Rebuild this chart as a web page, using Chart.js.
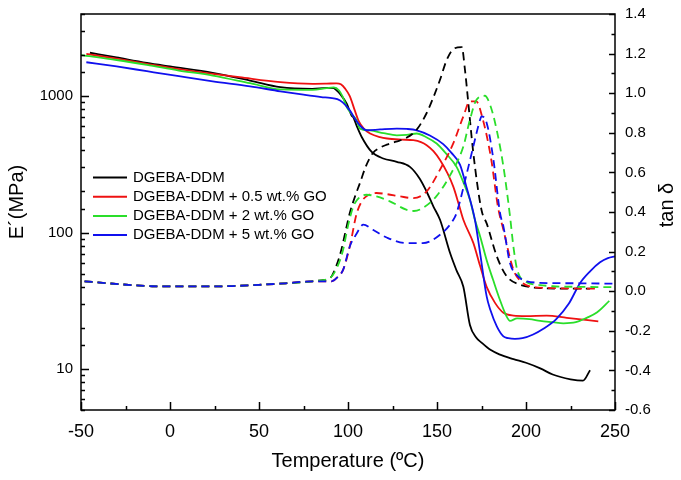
<!DOCTYPE html>
<html>
<head>
<meta charset="utf-8">
<script src="https://cdn.jsdelivr.net/npm/chart.js@4/dist/chart.umd.min.js"></script>
<style>
  html, body { margin: 0; padding: 0; background: #fff; }
</style>
</head>
<body>
<canvas id="myChart" width="681" height="480"></canvas>
<script>
// Series names and colours
const seriesNames = ['DGEBA-DDM', 'DGEBA-DDM + 0.5 wt.% GO', 'DGEBA-DDM + 2 wt.% GO', 'DGEBA-DDM + 5 wt.% GO'];
const seriesColors = ['#000000', '#ee1111', '#2ade2a', '#1010ee'];

// Storage modulus E' (MPa), left log axis
const tempE0 = [-45, -30, -13, 0, 24, 45, 62, 80, 88, 92, 93, 96, 99.3, 102, 103, 105, 107.7, 113.3, 119.8, 127.4, 134.8, 140.4, 144.2, 148, 151.7, 157.3, 160.9, 164.8, 168.5, 172, 175, 180, 185, 193, 200, 208, 215, 225, 232, 236];
const modE0 = [2080, 1920, 1753, 1650, 1480, 1300, 1163, 1132, 1150, 1145, 1120, 1020, 880, 720, 700, 600, 502, 390, 349, 330, 303, 247, 199, 155, 124, 71, 53, 40, 21, 17, 15.6, 13.8, 12.8, 11.8, 11.1, 10.1, 9.1, 8.4, 8.2, 9.8];

const tempE1 = [-47, -30, -13, 5, 24, 39, 62, 80, 88, 93.5, 96, 98.5, 101, 103.8, 105.8, 109, 112.4, 118, 122, 130, 136.7, 141, 144.2, 148, 151.7, 156, 159.2, 162, 164.8, 170.4, 174.2, 177.9, 182.6, 187.3, 193, 200, 211.6, 222.9, 240.6];
const modE1 = [2040, 1880, 1725, 1580, 1457, 1376, 1265, 1231, 1235, 1240, 1220, 1130, 1000, 786, 665, 575, 532, 500, 489, 480, 475, 460, 437, 395, 340, 270, 216, 165, 124, 84, 57, 40, 30.5, 25.8, 24.6, 24.4, 24.6, 23.7, 22.3];

const tempE2 = [-50, -30, -13, 5, 24, 45, 62, 80, 88, 92, 95, 97, 99.3, 102, 104.8, 106.7, 112.4, 120, 127.4, 133, 138.6, 144, 149.8, 155, 161, 165, 168.5, 171.3, 174.2, 178, 181.5, 185, 189, 191, 195, 202, 208, 215, 221, 228, 234.1, 240, 246.8];
const modE2 = [2000, 1840, 1695, 1540, 1416, 1243, 1119, 1110, 1145, 1160, 1100, 990, 831, 740, 665, 578, 560, 535, 516, 520, 532, 500, 449, 380, 303, 230, 174, 124, 94, 62, 45, 33, 24.4, 22.5, 23.5, 23.2, 22.5, 22, 21.6, 22, 23.7, 26, 31.5];

const tempE3 = [-47, -30, -13, 5, 24, 45, 62, 75, 85, 90, 94, 97, 101, 104, 107.5, 110.5, 118, 127.4, 133, 138.6, 146, 153.5, 158, 162.9, 166.8, 171.3, 174.2, 177.9, 180, 183.6, 187.3, 190, 193.8, 198, 204, 210, 217, 224, 230.4, 236, 241.6, 246, 250];
const modE3 = [1771, 1650, 1523, 1400, 1284, 1180, 1085, 1025, 985, 970, 950, 900, 786, 680, 594, 562, 570, 578, 575, 562, 515, 445, 385, 315, 210, 124, 71, 34, 27, 20.5, 17.3, 16.8, 16.6, 16.8, 17.9, 19.8, 23.2, 30, 42.7, 52, 60.5, 65, 67];

// tan delta, right axis (shared glassy baseline, then each series)
const tempTanBase = [-48, -35, -20, -10, 0, 20, 35, 50, 65, 80];
const tanBase = [0.05, 0.04, 0.03, 0.025, 0.024, 0.024, 0.026, 0.032, 0.04, 0.05];

const tempTan0 = [85, 90, 93.5, 96, 99.3, 101, 104, 106.7, 110, 114, 118, 121.8, 127, 132.7, 138.6, 144.2, 148, 151.7, 155.5, 159.2, 163.9, 165.7, 167.6, 170.4, 175, 178, 183.6, 189.2, 196.7, 208, 220, 236];
const tan0 = [0.055, 0.067, 0.13, 0.2, 0.33, 0.395, 0.48, 0.546, 0.63, 0.698, 0.725, 0.74, 0.755, 0.774, 0.816, 0.9, 0.98, 1.068, 1.169, 1.223, 1.233, 1.119, 0.95, 0.698, 0.41, 0.34, 0.176, 0.075, 0.033, 0.016, 0.013, 0.013];

const tempTan1 = [85, 90.8, 94, 97.3, 101, 104.8, 107.5, 110.3, 116, 122, 129.2, 136.7, 144.2, 151.7, 159.2, 164.8, 168.5, 172, 175.8, 180.5, 184.2, 187.3, 192.9, 197, 202.2, 213.5, 225, 240.6];
const tan1 = [0.05, 0.05, 0.07, 0.109, 0.226, 0.39, 0.45, 0.479, 0.496, 0.49, 0.479, 0.47, 0.504, 0.614, 0.748, 0.883, 0.959, 0.959, 0.866, 0.664, 0.428, 0.31, 0.109, 0.05, 0.024, 0.016, 0.014, 0.013];

const tempTan2 = [85, 90, 93.7, 97, 100, 103, 106, 110.3, 116, 123.5, 132.7, 137, 142, 149.6, 157, 164.8, 168.5, 172.2, 176.9, 179.8, 183.5, 187.3, 191, 193, 195, 200.4, 207, 215, 230, 249];
const tan2 = [0.055, 0.067, 0.117, 0.2, 0.33, 0.428, 0.47, 0.487, 0.479, 0.454, 0.412, 0.405, 0.42, 0.479, 0.58, 0.731, 0.866, 0.967, 0.987, 0.942, 0.816, 0.63, 0.38, 0.22, 0.11, 0.045, 0.032, 0.025, 0.022, 0.02];

const tempTan3 = [85, 90.8, 94, 97.3, 101, 104.8, 108.6, 114, 122, 132.7, 142, 151.7, 159.2, 161, 166.8, 170.4, 174.2, 175, 177.9, 181.7, 185.4, 187.3, 191, 195, 200.4, 213.6, 230, 250];
const tan3 = [0.05, 0.05, 0.07, 0.109, 0.226, 0.29, 0.336, 0.31, 0.27, 0.243, 0.243, 0.285, 0.361, 0.395, 0.597, 0.731, 0.866, 0.883, 0.85, 0.664, 0.395, 0.327, 0.142, 0.08, 0.05, 0.041, 0.04, 0.038];

// Tick ranges
const xTicks = { min: -50, max: 250, step: 25, labelEvery: 50 };
const eRange = { min: 5, max: 4000 };
const tanRange = { min: -0.6, max: 1.4, step: 0.1 };

const FONT = '"Liberation Sans", Arial, sans-serif';

function toPoints(xs, ys) {
  return xs.map((x, i) => ({ x: x, y: ys[i] }));
}

const eTemps = [tempE0, tempE1, tempE2, tempE3];
const eVals = [modE0, modE1, modE2, modE3];
const tanTemps = [tempTan0, tempTan1, tempTan2, tempTan3];
const tanVals = [tan0, tan1, tan2, tan3];

const datasets = [];
for (let i = 0; i < 4; i++) {
  datasets.push({
    label: seriesNames[i] + " E'",
    data: toPoints(eTemps[i], eVals[i]),
    yAxisID: 'y',
    borderColor: seriesColors[i],
    borderWidth: 1.8,
    pointRadius: 0,
    cubicInterpolationMode: 'monotone',
    fill: false
  });
}
for (let i = 0; i < 4; i++) {
  datasets.push({
    label: seriesNames[i] + ' tan',
    data: toPoints(tempTanBase.concat(tanTemps[i]), tanBase.concat(tanVals[i])),
    yAxisID: 'y2',
    borderColor: seriesColors[i],
    borderWidth: 1.8,
    borderDash: [8, 5],
    pointRadius: 0,
    cubicInterpolationMode: 'monotone',
    fill: false
  });
}
// draw the black ones on top like the original
datasets.reverse();

function isDecade(v) {
  const l = Math.log10(v);
  return Math.abs(l - Math.round(l)) < 1e-9;
}

// no extra room for half tick labels, plot box is fixed
function noPad(scale) {
  scale.paddingTop = 0;
  scale.paddingBottom = 0;
  scale.paddingLeft = 0;
  scale.paddingRight = 0;
}

// frame, inward ticks, legend and axis titles
const decorPlugin = {
  id: 'decor',
  afterDatasetsDraw(chart) {
    const ctx = chart.ctx;
    const a = chart.chartArea;
    const sx = chart.scales.x, sy = chart.scales.y, sy2 = chart.scales.y2;
    ctx.save();
    ctx.strokeStyle = '#000';
    ctx.lineWidth = 1.5;
    ctx.strokeRect(a.left, a.top, a.right - a.left, a.bottom - a.top);

    ctx.beginPath();
    sx.ticks.forEach(t => {
      const px = Math.round(sx.getPixelForValue(t.value)) + 0.5;
      const len = Math.round(t.value) % xTicks.labelEvery === 0 ? 8 : 4;
      ctx.moveTo(px, a.bottom);
      ctx.lineTo(px, a.bottom - len);
    });
    sy.ticks.forEach(t => {
      const py = Math.round(sy.getPixelForValue(t.value)) + 0.5;
      const len = isDecade(t.value) ? 8 : 4;
      ctx.moveTo(a.left, py);
      ctx.lineTo(a.left + len, py);
    });
    sy2.ticks.forEach(t => {
      const py = Math.round(sy2.getPixelForValue(t.value)) + 0.5;
      const len = Math.round(t.value * 10) % 2 === 0 ? 6 : 3.5;
      ctx.moveTo(a.right, py);
      ctx.lineTo(a.right - len, py);
    });
    ctx.stroke();

    // legend
    ctx.font = '15px ' + FONT;
    ctx.textBaseline = 'middle';
    ctx.fillStyle = '#000';
    seriesNames.forEach((name, i) => {
      const y = 177.5 + i * 19.2;
      ctx.strokeStyle = seriesColors[i];
      ctx.lineWidth = 2;
      ctx.beginPath();
      ctx.moveTo(93, y);
      ctx.lineTo(127, y);
      ctx.stroke();
      ctx.fillText(name, 133, y);
    });
    ctx.restore();
  },
  afterDraw(chart) {
    const ctx = chart.ctx;
    ctx.save();
    ctx.fillStyle = '#000';
    ctx.font = '20px ' + FONT;
    ctx.textAlign = 'center';
    ctx.textBaseline = 'middle';
    ctx.fillText('Temperature (ºC)', 348, 461);
    ctx.translate(17, 202);
    ctx.rotate(-Math.PI / 2);
    ctx.fillText('E´(MPa)', 0, 0);
    ctx.restore();
    ctx.save();
    ctx.fillStyle = '#000';
    ctx.font = '20px ' + FONT;
    ctx.textAlign = 'center';
    ctx.textBaseline = 'middle';
    ctx.translate(667, 205);
    ctx.rotate(-Math.PI / 2);
    ctx.fillText('tan δ', 0, 0);
    ctx.restore();
  }
};

const ctx = document.getElementById('myChart').getContext('2d');
const myChart = new Chart(ctx, {
  type: 'line',
  data: { datasets: datasets },
  options: {
    responsive: false,
    animation: false,
    events: [],
    layout: { padding: { top: 14, left: 0, right: 0, bottom: 0 } },
    plugins: { legend: { display: false }, tooltip: { enabled: false } },
    scales: {
      x: {
        type: 'linear',
        min: xTicks.min,
        max: xTicks.max,
        grid: { display: false, drawTicks: false },
        border: { display: false },
        ticks: {
          stepSize: xTicks.step,
          autoSkip: false,
          maxRotation: 0,
          padding: 11,
          color: '#000',
          font: { family: FONT, size: 18 },
          callback: v => (Math.round(v) % xTicks.labelEvery === 0 ? String(Math.round(v)) : '')
        },
        afterFit(scale) { scale.height = 70; noPad(scale); }
      },
      y: {
        type: 'logarithmic',
        position: 'left',
        min: eRange.min,
        max: eRange.max,
        grid: { display: false, drawTicks: false },
        border: { display: false },
        ticks: {
          autoSkip: false,
          padding: 8,
          color: '#000',
          font: { family: FONT, size: 15 },
          callback: v => (isDecade(v) ? String(Math.round(v)) : '')
        },
        afterFit(scale) { scale.width = 81; noPad(scale); }
      },
      y2: {
        type: 'linear',
        position: 'right',
        min: tanRange.min,
        max: tanRange.max,
        grid: { display: false, drawTicks: false },
        border: { display: false },
        ticks: {
          stepSize: tanRange.step,
          autoSkip: false,
          padding: 10,
          color: '#000',
          font: { family: FONT, size: 15 },
          callback: v => {
            const n = Math.round(v * 10);
            return n % 2 === 0 ? (n / 10).toFixed(1) : '';
          }
        },
        afterFit(scale) { scale.width = 66; noPad(scale); }
      }
    }
  },
  plugins: [decorPlugin]
});
</script>
</body>
</html>
